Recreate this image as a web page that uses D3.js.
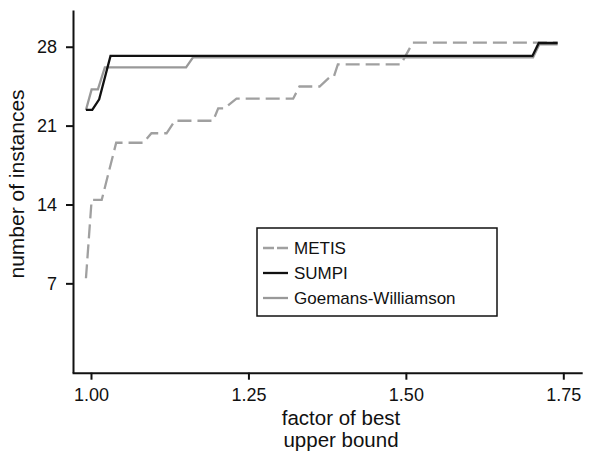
<!DOCTYPE html>
<html>
<head>
<meta charset="utf-8">
<script src="https://cdn.jsdelivr.net/npm/d3@7"></script>
<style>
  body { margin: 0; background: #fff; }
  text { font-family: "Liberation Sans", Arial, sans-serif; fill: #111; }
</style>
</head>
<body>
<svg id="chart" width="601" height="461"></svg>
<script>
// factor of best upper bound (x) vs number of instances (y)
var metis_x = [0.992, 1.001, 1.017, 1.040, 1.083, 1.096, 1.120, 1.133, 1.194, 1.202, 1.212, 1.231, 1.321, 1.331, 1.363, 1.381, 1.386, 1.392, 1.492, 1.511, 1.741]
var metis_y = [7.45, 14.40, 14.40, 19.48, 19.48, 20.32, 20.32, 21.43, 21.43, 22.53, 22.53, 23.39, 23.39, 24.47, 24.47, 25.40, 25.40, 26.44, 26.44, 28.36, 28.36]

var sumpi_x = [0.992, 1.002, 1.013, 1.031, 1.701, 1.711, 1.741]
var sumpi_y = [22.39, 22.39, 23.33, 27.18, 27.18, 28.33, 28.33]

var gw_x = [0.992, 1.001, 1.011, 1.022, 1.151, 1.162, 1.702, 1.712, 1.741]
var gw_y = [22.39, 24.22, 24.22, 26.17, 26.17, 27.06, 27.06, 28.21, 28.21]

var x_ticks = [1.00, 1.25, 1.50, 1.75]
var y_ticks = [7, 14, 21, 28]
var series_names = ["METIS", "SUMPI", "Goemans-Williamson"]

window.onload = () => {
  draw_chart()
}

function draw_chart(){
  var svg = d3.select("#chart")

  var x = d3.scaleLinear()
    .domain([0.97, 1.78])
    .range([72.1, 582.2])

  var y = d3.scaleLinear()
    .domain([-0.93, 31.26])
    .range([372.7, 10])

  // axes (L shaped, no box)
  var xAxis = svg.append("g")
    .attr("transform", "translate(0,372.7)")
    .call(d3.axisBottom(x).tickValues(x_ticks).tickFormat(d3.format(".2f"))
      .tickSize(7).tickSizeOuter(0).tickPadding(9))
  var yAxis = svg.append("g")
    .attr("transform", "translate(73,0)")
    .call(d3.axisLeft(y).tickValues(y_ticks)
      .tickSize(7).tickSizeOuter(0).tickPadding(9))

  svg.selectAll(".domain, .tick line")
    .attr("stroke", "#111")
    .attr("stroke-width", 2)
  svg.selectAll(".tick text")
    .attr("fill", "#111")
    .style("font-size", "18px")
    .style("font-family", "'Liberation Sans', Arial, sans-serif")

  // axis titles
  svg.append("text")
    .attr("x", 341).attr("y", 425)
    .attr("text-anchor", "middle")
    .style("font-size", "20.5px")
    .text("factor of best")
  svg.append("text")
    .attr("x", 341).attr("y", 447)
    .attr("text-anchor", "middle")
    .style("font-size", "20.5px")
    .text("upper bound")
  svg.append("text")
    .attr("transform", "translate(24,184) rotate(-90)")
    .attr("text-anchor", "middle")
    .style("font-size", "21px")
    .text("number of instances")

  var line = d3.line()
    .x(function(d) { return x(d[0]) })
    .y(function(d) { return y(d[1]) })

  var metis = d3.zip(metis_x, metis_y)
  var sumpi = d3.zip(sumpi_x, sumpi_y)
  var gw = d3.zip(gw_x, gw_y)

  var styles = [
    {color: "#a0a0a0", dash: "14,6"},
    {color: "#111111", dash: null},
    {color: "#999999", dash: null}
  ]

  // METIS first, then GW under SUMPI
  svg.append("path").datum(metis)
    .attr("fill", "none")
    .attr("stroke", styles[0].color)
    .attr("stroke-width", 2.3)
    .attr("stroke-dasharray", styles[0].dash)
    .attr("d", line)
  svg.append("path").datum(gw)
    .attr("fill", "none")
    .attr("stroke", styles[2].color)
    .attr("stroke-width", 2.3)
    .attr("d", line)
  svg.append("path").datum(sumpi)
    .attr("fill", "none")
    .attr("stroke", styles[1].color)
    .attr("stroke-width", 2.3)
    .attr("d", line)

  // legend
  var legend = svg.append("g").attr("transform", "translate(257,228)")
  legend.append("rect")
    .attr("width", 240).attr("height", 88)
    .attr("fill", "white")
    .attr("stroke", "#111")
    .attr("stroke-width", 1.5)

  var items = legend.selectAll("g.item")
    .data(series_names)
    .enter()
    .append("g")
      .attr("class", "item")
      .attr("transform", function(d, i) { return "translate(0," + (20 + i * 25) + ")" })

  items.append("line")
    .attr("x1", 6).attr("x2", 31)
    .attr("stroke", function(d, i) { return styles[i].color })
    .attr("stroke-width", 2.3)
    .attr("stroke-dasharray", function(d, i) { return i == 0 ? "11,3" : null })
  items.append("text")
    .attr("x", 37).attr("y", 6)
    .style("font-size", "17px")
    .text(function(d) { return d })
}
</script>
</body>
</html>
